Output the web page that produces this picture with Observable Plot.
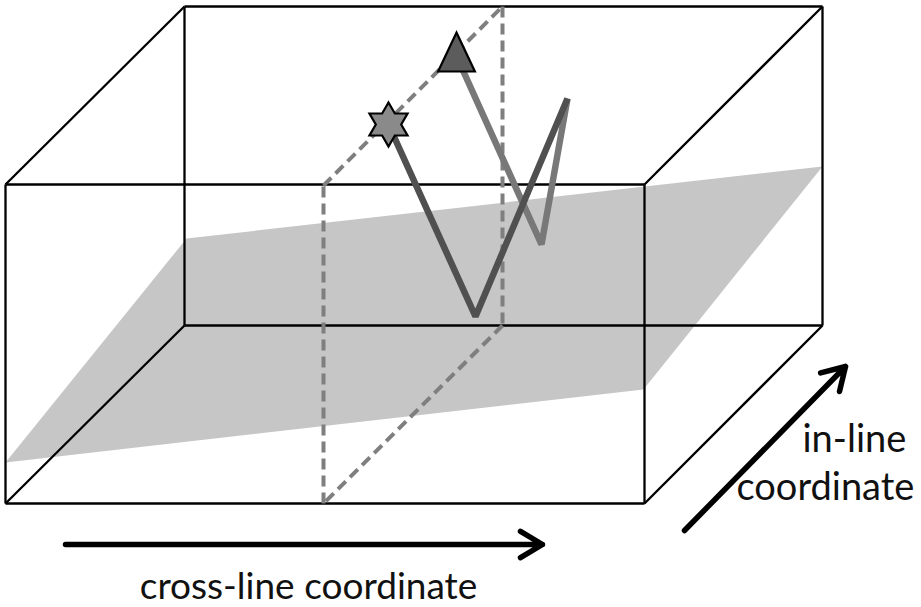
<!DOCTYPE html>
<html>
<head>
<meta charset="utf-8">
<script src="https://cdn.jsdelivr.net/npm/d3@7"></script>
<script src="https://cdn.jsdelivr.net/npm/@observablehq/plot@0.6"></script>
<style>
  html, body { margin: 0; padding: 0; background: #fff; }
  #chart svg { display: block; }
</style>
</head>
<body>
<div id="chart"></div>
<script>
// ---- Diagram data (image-space coordinates, y downward) ----
const frontBox = [[5, 184], [644, 184], [644, 503], [5, 503]];
const backBox = [[184, 6], [822, 6], [822, 325], [184, 325]];
const horizonPlane = [[5, 462], [186, 238], [822, 166], [643, 389], [5, 462]];
const sectionPlane = [[323, 185], [502, 6], [502, 325], [323, 503]];
const wellA = [[388, 124], [475, 316], [567, 98]];      // dark path, starts at star
const wellB = [[458, 60], [541, 244], [567, 98]];       // light path, starts at triangle
const markers = [
  {name: "star", x: 388, y: 124},
  {name: "triangle", x: 456, y: 52}
];
const arrows = [
  {name: "cross-line", x1: 65, y1: 544, x2: 542, y2: 544},
  {name: "in-line", x1: 684, y1: 530, x2: 845, y2: 366}
];
const bottomLabel = [{text: "cross-line coordinate", x: 308, y: 587}];
const sideLabels = [
  {text: "in-line", x: 802, y: 439},
  {text: "coordinate", x: 736, y: 487}
];

// ---- Build segments ----
const boxEdges = [];
for (let i = 0; i < 4; i++) {
  const j = (i + 1) % 4;
  boxEdges.push({x1: frontBox[i][0], y1: frontBox[i][1], x2: frontBox[j][0], y2: frontBox[j][1]});
  boxEdges.push({x1: backBox[i][0], y1: backBox[i][1], x2: backBox[j][0], y2: backBox[j][1]});
  boxEdges.push({x1: frontBox[i][0], y1: frontBox[i][1], x2: backBox[i][0], y2: backBox[i][1]});
}
const sectionEdges = [];
for (let i = 0; i < 4; i++) {
  const j = (i + 1) % 4;
  sectionEdges.push({x1: sectionPlane[i][0], y1: sectionPlane[i][1], x2: sectionPlane[j][0], y2: sectionPlane[j][1]});
}
const planeData = horizonPlane.map(([x, y]) => ({x, y}));
const wellAData = wellA.map(([x, y]) => ({x, y}));
const wellBData = wellB.map(([x, y]) => ({x, y}));

// ---- Custom symbols ----
const hexagram = {
  draw(ctx, size) {
    const R = Math.sqrt(size / Math.PI);
    const r = R / Math.sqrt(3);
    for (let k = 0; k < 12; k++) {
      const a = -Math.PI / 2 + k * Math.PI / 6;
      const rad = k % 2 === 0 ? R : r;
      const px = rad * Math.cos(a), py = rad * Math.sin(a);
      if (k === 0) ctx.moveTo(px, py); else ctx.lineTo(px, py);
    }
    ctx.closePath();
  }
};
const tallTriangle = {
  draw(ctx, size) {
    const R = Math.sqrt(size / Math.PI);
    ctx.moveTo(0, -R);
    ctx.lineTo(0.92 * R, 0.95 * R);
    ctx.lineTo(-0.92 * R, 0.95 * R);
    ctx.closePath();
  }
};

const W = 921, H = 607;
const chart = Plot.plot({
  width: W,
  height: H,
  margin: 0,
  x: {domain: [0, W], range: [0, W], axis: null},
  y: {domain: [0, H], range: [0, H], axis: null},
  style: {background: "#fff"},
  marks: [
    Plot.line(planeData, {x: "x", y: "y", fill: "#c6c6c6", stroke: "none"}),
    Plot.link(boxEdges, {x1: "x1", y1: "y1", x2: "x2", y2: "y2", stroke: "#000", strokeWidth: 2.3}),
    Plot.link(sectionEdges, {x1: "x1", y1: "y1", x2: "x2", y2: "y2", stroke: "#7f7f7f", strokeWidth: 4, strokeDasharray: "11,6"}),
    Plot.line(wellBData, {x: "x", y: "y", stroke: "#787878", strokeWidth: 6.5, strokeLinejoin: "miter", strokeLinecap: "butt"}),
    Plot.line(wellAData, {x: "x", y: "y", stroke: "#505050", strokeWidth: 6.5, strokeLinejoin: "miter", strokeLinecap: "butt"}),
    Plot.dot(markers.filter(d => d.name === "star"), {x: "x", y: "y", r: 22, symbol: hexagram, fill: "#8a8a8a", stroke: "#000", strokeWidth: 2.2}),
    Plot.dot(markers.filter(d => d.name === "triangle"), {x: "x", y: "y", r: 20, symbol: tallTriangle, fill: "#5c5c5c", stroke: "#000", strokeWidth: 2.2}),
    Plot.arrow(arrows, {x1: "x1", y1: "y1", x2: "x2", y2: "y2", stroke: "#000", strokeWidth: 5.5, headLength: 7, headAngle: 62}),
    Plot.text(bottomLabel, {x: "x", y: "y", text: "text", textAnchor: "middle", fontSize: 37, fontFamily: "Lato", fill: "#111"}),
    Plot.text(sideLabels, {x: "x", y: "y", text: "text", textAnchor: "start", fontSize: 38, fontFamily: "Lato", fill: "#111"})
  ]
});
document.getElementById("chart").appendChild(chart);
</script>
</body>
</html>
